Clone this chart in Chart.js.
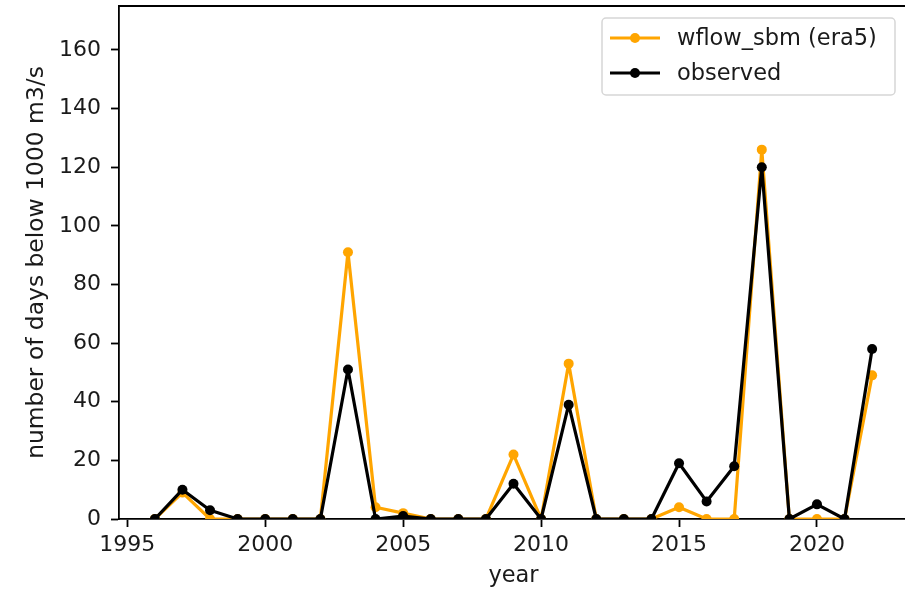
<!DOCTYPE html>
<html>
<head>
<meta charset="utf-8">
<script src="https://cdn.jsdelivr.net/npm/chart.js@4.4.1/dist/chart.umd.min.js"></script>
<style>
  html, body { margin: 0; padding: 0; background: #fff; overflow: hidden; }
  #wrap { width: 913px; height: 590px; }
</style>
</head>
<body>
<div id="wrap"><canvas id="chart" width="913" height="590"></canvas></div>
<script>
const years = [1996, 1997, 1998, 1999, 2000, 2001, 2002, 2003, 2004, 2005, 2006, 2007, 2008, 2009,
               2010, 2011, 2012, 2013, 2014, 2015, 2016, 2017, 2018, 2019, 2020, 2021, 2022];
const wflow = [0, 9, 0, 0, 0, 0, 0, 91, 4, 2, 0, 0, 0, 22,
               0, 53, 0, 0, 0, 4, 0, 0, 126, 0, 0, 0, 49];
const observed = [0, 10, 3, 0, 0, 0, 0, 51, 0, 1, 0, 0, 0, 12,
                  0, 39, 0, 0, 0, 19, 6, 18, 120, 0, 5, 0, 58];
const xTicks = [1995, 2000, 2005, 2010, 2015, 2020];
const yTicks = [0, 20, 40, 60, 80, 100, 120, 140, 160];

const FONT = 'DejaVu Sans';
const ORANGE = '#ffa500';
const BLACK = '#000000';
const TEXT = '#1a1a1a';

Chart.defaults.font.family = FONT;
Chart.defaults.font.size = 22;
Chart.defaults.color = TEXT;

const toPoints = vals => years.map((y, i) => ({ x: y, y: vals[i] }));

// matplotlib-like frame (top/right spine) and legend
const frameAndLegend = {
    id: 'frameAndLegend',
    afterDraw(chart) {
        const { ctx, chartArea: a } = chart;
        ctx.save();
        ctx.strokeStyle = BLACK;
        ctx.lineWidth = 1.8;
        ctx.beginPath();
        ctx.moveTo(a.left, a.top);
        ctx.lineTo(a.right, a.top);
        ctx.lineTo(a.right, a.bottom);
        ctx.stroke();

        // legend box
        const bx = 602, by = 18, bw = 293, bh = 77, r = 4;
        ctx.beginPath();
        ctx.roundRect(bx, by, bw, bh, r);
        ctx.fillStyle = 'rgba(255,255,255,0.8)';
        ctx.fill();
        ctx.strokeStyle = '#d6d6d6';
        ctx.lineWidth = 1.5;
        ctx.stroke();

        const items = [
            { text: 'wflow_sbm (era5)', color: ORANGE, y: 38 },
            { text: 'observed', color: BLACK, y: 73 }
        ];
        ctx.font = '22.5px ' + FONT;
        ctx.textBaseline = 'middle';
        items.forEach(it => {
            ctx.strokeStyle = it.color;
            ctx.lineWidth = 3.2;
            ctx.beginPath();
            ctx.moveTo(610, it.y);
            ctx.lineTo(660, it.y);
            ctx.stroke();
            ctx.fillStyle = it.color;
            ctx.beginPath();
            ctx.arc(635, it.y, 5, 0, Math.PI * 2);
            ctx.fill();
            ctx.fillStyle = TEXT;
            ctx.fillText(it.text, 677, it.y + 1);
        });
        ctx.restore();
    }
};

const lineStyle = {
    borderWidth: 3.2,
    pointRadius: 5,
    pointBorderWidth: 0,
    tension: 0,
    clip: 0,
    borderJoinStyle: 'round',
    borderCapStyle: 'round'
};

new Chart(document.getElementById('chart'), {
    type: 'line',
    data: {
        datasets: [
            { label: 'observed', data: toPoints(observed), borderColor: BLACK, backgroundColor: BLACK,
              order: 0, ...lineStyle },
            { label: 'wflow_sbm (era5)', data: toPoints(wflow), borderColor: ORANGE, backgroundColor: ORANGE,
              order: 1, ...lineStyle }
        ]
    },
    options: {
        responsive: false,
        animation: false,
        layout: { padding: { top: 6, left: 0, right: 2, bottom: 0 } },
        plugins: {
            legend: { display: false },
            tooltip: { enabled: false }
        },
        scales: {
            x: {
                type: 'linear',
                min: 1994.7,
                max: 2023.3,
                afterBuildTicks: scale => { scale.ticks = xTicks.map(v => ({ value: v })); },
                afterFit: scale => { scale.height = 71; scale.paddingLeft = 0; scale.paddingRight = 0; },
                border: { color: BLACK, width: 1.8 },
                grid: { drawOnChartArea: false, tickLength: 8, tickColor: BLACK, tickWidth: 1.8 },
                ticks: { color: TEXT, font: { family: FONT, size: 22 }, padding: 5, maxRotation: 0,
                         autoSkip: false, callback: v => String(v) },
                title: { display: true, text: 'year', font: { family: FONT, size: 22.5 },
                         padding: { top: 0, bottom: 0 } }
            },
            y: {
                min: 0,
                max: 175,
                afterBuildTicks: scale => { scale.ticks = yTicks.map(v => ({ value: v })); },
                afterFit: scale => { scale.width = 119; scale.paddingTop = 0; scale.paddingBottom = 0; },
                border: { color: BLACK, width: 1.8 },
                grid: { drawOnChartArea: false, tickLength: 8, tickColor: BLACK, tickWidth: 1.8 },
                ticks: { color: TEXT, font: { family: FONT, size: 22 }, padding: 10, autoSkip: false },
                title: { display: true, text: 'number of days below 1000 m3/s',
                         font: { family: FONT, size: 23.4 }, padding: { top: 23, bottom: 0 } }
            }
        }
    },
    plugins: [frameAndLegend]
});
</script>
</body>
</html>
